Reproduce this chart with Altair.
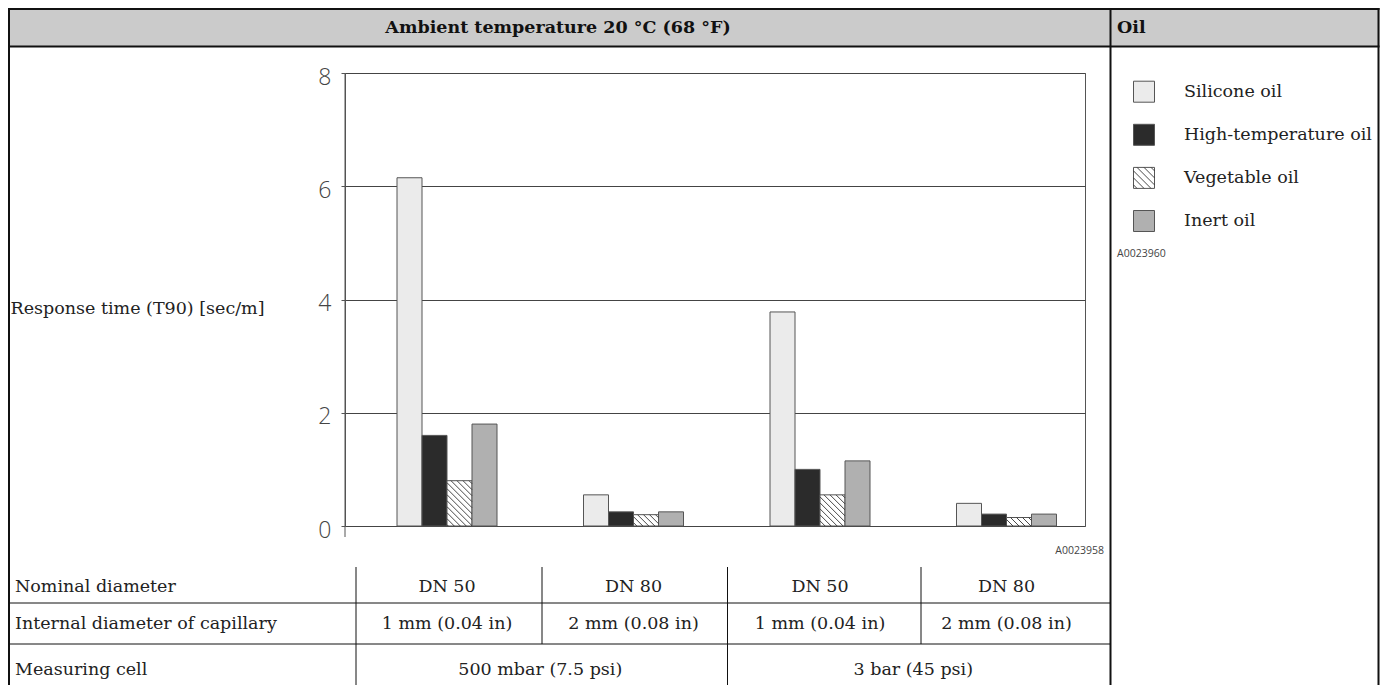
import altair as alt
import pandas as pd

# ---------------- data ----------------
groups = ["DN 50 | 1 mm | 500 mbar", "DN 80 | 2 mm | 500 mbar",
          "DN 50 | 1 mm | 3 bar", "DN 80 | 2 mm | 3 bar"]
series = ["Silicone oil", "High-temperature oil", "Vegetable oil", "Inert oil"]
silicone = [6.15, 0.55, 3.78, 0.40]
high_temp = [1.60, 0.25, 1.00, 0.21]
vegetable = [0.80, 0.20, 0.55, 0.15]
inert = [1.80, 0.25, 1.15, 0.21]

header_title = "Ambient temperature 20 °C (68 °F)"
header_oil = "Oil"
y_title = "Response time (T90) [sec/m]"
y_ticks = [0, 2, 4, 6, 8]
row_labels = ["Nominal diameter", "Internal diameter of capillary", "Measuring cell"]
nominal = ["DN 50", "DN 80", "DN 50", "DN 80"]
capillary = ["1 mm (0.04 in)", "2 mm (0.08 in)", "1 mm (0.04 in)", "2 mm (0.08 in)"]
cell = ["500 mbar (7.5 psi)", "3 bar (45 psi)"]
cell_spans = [[0, 1], [2, 3]]
fig_codes = ["A0023958", "A0023960"]

# ---------------- layout / style ----------------
W, H = 740, 453
PAD_L, PAD_T = 337, 65
TOTAL_W, TOTAL_H = 1372, 677
PXX = 186.5            # px per group slot
FIRST = 102            # px from plot left to first group centre
XMIN = -FIRST / PXX
XMAX = (W - FIRST) / PXX
PXY = H / 8.0
BAR_PX = 25
GROUP_PX = 100
HATCH = 6
SERIF = "DejaVu Serif"
SANS = "Open Sans"
FS = 17.5
TXT = "#222222"
LINE = "#555555"
fills = ["#ebebeb", "#2b2b2b", "#ffffff", "#b0b0b0"]

xs = alt.Scale(domain=[XMIN, XMAX], nice=False, zero=False)
ys = alt.Scale(domain=[0, 8], nice=False, zero=False)
fill_scale = alt.Scale(domain=series, range=fills)

bars_df = pd.DataFrame([
    {"gi": gi, "group": groups[gi], "si": si, "series": s, "value": vals[gi]}
    for si, (s, vals) in enumerate(zip(series, [silicone, high_temp, vegetable, inert]))
    for gi in range(len(groups))
])

bar_base = alt.Chart(bars_df).transform_calculate(
    xl=f"datum.gi + (datum.si * {BAR_PX} - {GROUP_PX / 2}) / {PXX}",
).transform_calculate(
    xr=f"datum.xl + {BAR_PX} / {PXX}",
)

y_axis = alt.Axis(
    values=y_ticks, format="d", title=y_title, titleAngle=0, titleAlign="left",
    titleBaseline="middle", titleX=-335, titleY=235, titleFont=SERIF,
    titleFontSize=FS, titleFontWeight="normal", titleColor=TXT,
    labelFont=SANS, labelFontSize=23, labelFontWeight=300, labelColor="#444",
    labelPadding=10, labelOffset=4, tickSize=4, tickColor=LINE,
    domain=False, grid=True, gridColor="#444", gridWidth=1)

bars = bar_base.mark_bar(stroke=LINE, strokeWidth=1).encode(
    x=alt.X("xl:Q", scale=xs, axis=None),
    x2="xr:Q",
    y=alt.Y("value:Q", scale=ys, axis=y_axis),
    y2=alt.datum(0),
    fill=alt.Fill("series:N", scale=fill_scale, legend=None),
)

hatch = bar_base.transform_filter(
    alt.datum.series == series[2]
).transform_calculate(
    Hp=f"datum.value * {PXY}"
).transform_calculate(
    cs=f"sequence({-BAR_PX + HATCH / 2}, datum.Hp, {HATCH})"
).transform_flatten(["cs"]).transform_calculate(
    u1="max(0, -datum.cs)"
).transform_calculate(
    u2=f"min({BAR_PX}, datum.Hp - datum.cs)"
).transform_filter("datum.u2 > datum.u1").transform_calculate(
    hx1=f"datum.xl + datum.u1 / {PXX}",
    hx2=f"datum.xl + datum.u2 / {PXX}",
    hy1=f"datum.value - (datum.u1 + datum.cs) / {PXY}",
    hy2=f"datum.value - (datum.u2 + datum.cs) / {PXY}",
).mark_rule(color="#333", strokeWidth=0.9).encode(
    x=alt.X("hx1:Q", scale=xs, axis=None), x2="hx2:Q",
    y=alt.Y("hy1:Q", scale=ys), y2="hy2:Q",
)

dummy = pd.DataFrame({"a": [0]})


def seg(x1, x2, y1, y2, w, color="#111"):
    return alt.Chart(dummy).mark_rule(color=color, strokeWidth=w).encode(
        x=alt.value(x1), x2=alt.value(x2), y=alt.value(y1), y2=alt.value(y2))


RIGHT = TOTAL_W - PAD_L - 1.5
LEFT = -PAD_L + 1
TOP = -PAD_T + 1
BOT = TOTAL_H - PAD_T + 5
HEAD_B = -26.5
DIV = 765.5
frame = [
    seg(LEFT - 1, RIGHT + 1, TOP, TOP, 2),
    seg(LEFT - 1, RIGHT + 1, HEAD_B, HEAD_B, 2),
    seg(LEFT, LEFT, TOP - 1, BOT, 2),
    seg(DIV, DIV, TOP - 1, BOT, 2),
    seg(RIGHT, RIGHT, TOP - 1, BOT, 2),
    seg(LEFT, DIV, 530, 530, 1),
    seg(LEFT, DIV, 571, 571, 1),
    seg(11, 11, 494, BOT, 1),
    seg(197, 197, 494, 571, 1),
    seg(382.5, 382.5, 494, BOT, 1),
    seg(576, 576, 494, 571, 1),
    seg(0, 0, 0, 464, 1, LINE),
]

header_bg = alt.Chart(dummy).mark_rect(color="#cbcbcb").encode(
    x=alt.value(LEFT - 1), x2=alt.value(RIGHT + 1), y=alt.value(TOP - 1), y2=alt.value(HEAD_B))

head1 = alt.Chart(pd.DataFrame({"t": [header_title]})).mark_text(
    font=SERIF, fontSize=FS, fontWeight="bold", color="#111", align="center", baseline="middle"
).encode(text="t:N", x=alt.value(213), y=alt.value(-45))
head2 = alt.Chart(pd.DataFrame({"t": [header_oil]})).mark_text(
    font=SERIF, fontSize=FS, fontWeight="bold", color="#111", align="left", baseline="middle"
).encode(text="t:N", x=alt.value(772), y=alt.value(-45))

row_y = [514, 551, 597]
row_layers = []
for r, lab in enumerate(row_labels):
    row_layers.append(alt.Chart(pd.DataFrame({"t": [lab]})).mark_text(
        font=SERIF, fontSize=FS, color=TXT, align="left", baseline="middle"
    ).encode(text="t:N", x=alt.value(-330), y=alt.value(row_y[r])))

nom = alt.Chart(pd.DataFrame({"gi": list(range(4)), "t": nominal})).mark_text(
    font=SERIF, fontSize=FS, color=TXT, baseline="middle").encode(
    x=alt.X("gi:Q", scale=xs, axis=None), y=alt.value(row_y[0]), text="t:N")
cap = alt.Chart(pd.DataFrame({"gi": list(range(4)), "t": capillary})).mark_text(
    font=SERIF, fontSize=FS, color=TXT, baseline="middle").encode(
    x=alt.X("gi:Q", scale=xs, axis=None), y=alt.value(row_y[1]), text="t:N")
cel = alt.Chart(pd.DataFrame({"xc": [sum(s) / len(s) for s in cell_spans], "t": cell})).mark_text(
    font=SERIF, fontSize=FS, color=TXT, baseline="middle").encode(
    x=alt.X("xc:Q", scale=xs, axis=None), y=alt.value(row_y[2]), text="t:N")

code1 = alt.Chart(pd.DataFrame({"t": [fig_codes[0]]})).mark_text(
    font=SANS, fontSize=10.5, color="#444", align="right", baseline="middle"
).encode(text="t:N", x=alt.value(759), y=alt.value(478))
code2 = alt.Chart(pd.DataFrame({"t": [fig_codes[1]]})).mark_text(
    font=SANS, fontSize=10.5, color="#444", align="left", baseline="middle"
).encode(text="t:N", x=alt.value(772), y=alt.value(181))

# ---------------- legend ----------------
LEG_X, LEG_Y0, LEG_DY, SW, LEG_HATCH = 799, 18.7, 43.1, 21, 7
legend_layers = []
for i, s in enumerate(series):
    ly = LEG_Y0 + i * LEG_DY
    d = pd.DataFrame({"series": [s]})
    legend_layers.append(alt.Chart(d).mark_square(
        size=SW * SW, stroke=LINE, strokeWidth=1, opacity=1).encode(
        x=alt.value(LEG_X), y=alt.value(ly),
        fill=alt.Fill("series:N", scale=fill_scale, legend=None)))
    if s == series[2]:
        c = -SW + LEG_HATCH / 2
        while c < SW:
            u1, u2 = max(0, -c), min(SW, SW - c)
            if u2 > u1:
                x0, y0 = LEG_X - SW / 2, ly - SW / 2
                legend_layers.append(seg(x0 + u1, x0 + u2, y0 + u1 + c, y0 + u2 + c, 0.9, "#333"))
            c += LEG_HATCH
    legend_layers.append(alt.Chart(d).mark_text(
        font=SERIF, fontSize=FS, color=TXT, align="left", baseline="middle").encode(
        x=alt.value(LEG_X + 40), y=alt.value(ly), text="series:N"))

chart = alt.layer(
    header_bg, bars, hatch, *frame, head1, head2, *row_layers, nom, cap, cel,
    code1, code2, *legend_layers,
).properties(
    width=W, height=H,
    autosize=alt.AutoSizeParams(type="none"),
    padding={"left": PAD_L, "top": PAD_T,
             "right": TOTAL_W - PAD_L - W, "bottom": TOTAL_H - PAD_T - H},
).configure_view(stroke=LINE, strokeWidth=1)

chart.save("out.html", embed_options={"renderer": "svg", "actions": False})
